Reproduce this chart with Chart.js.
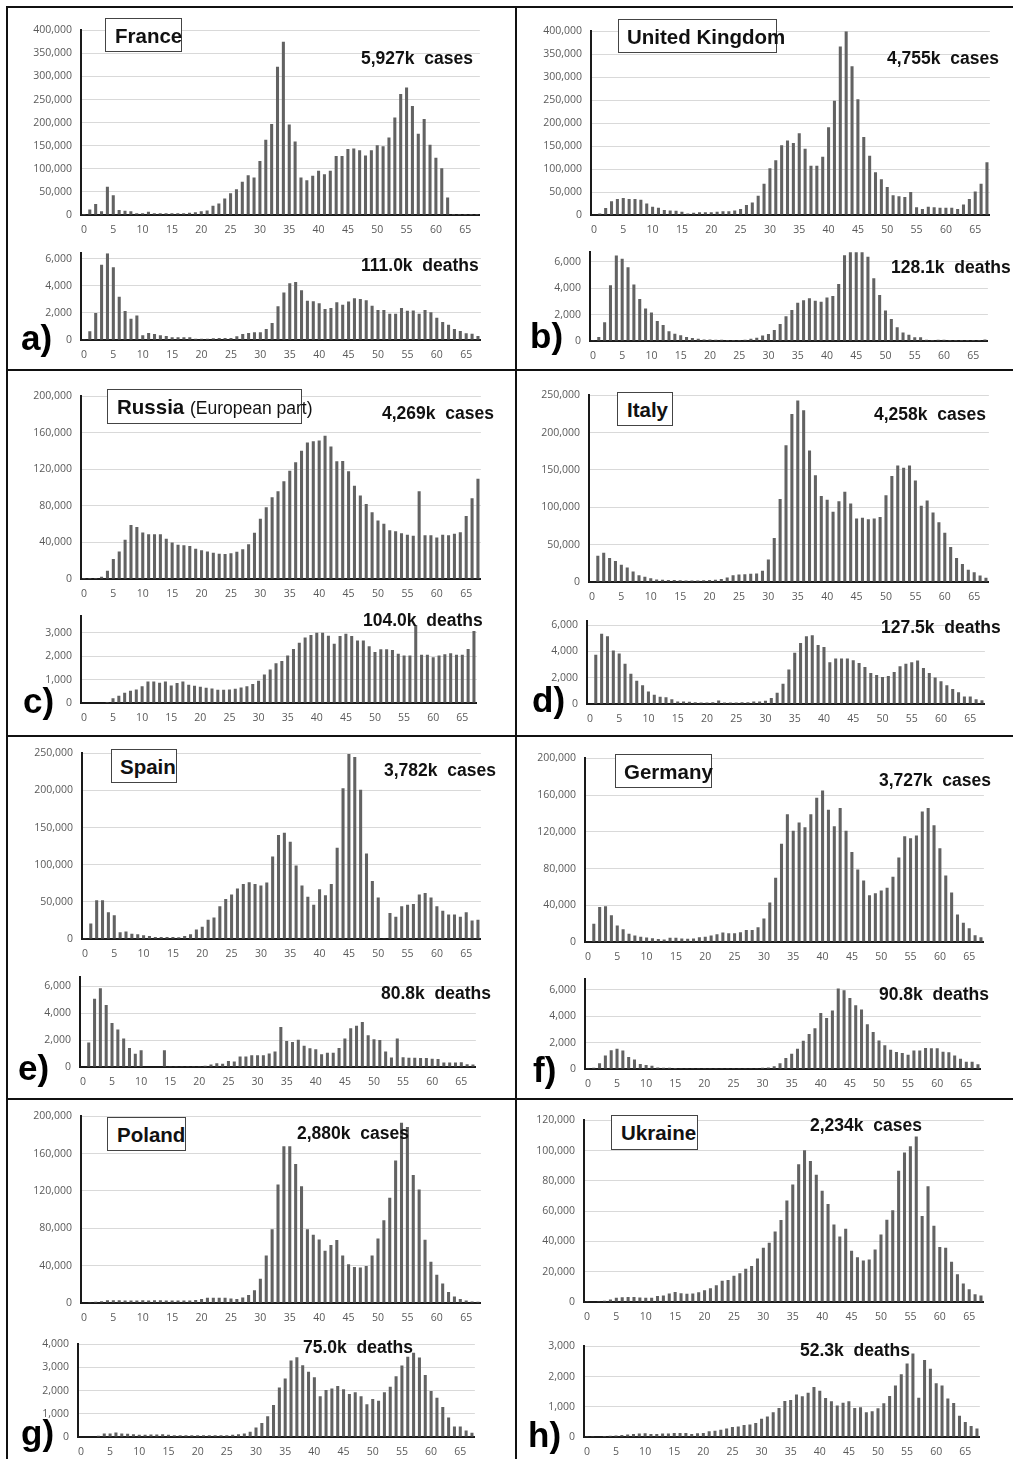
<!DOCTYPE html>
<html>
<head>
<meta charset="utf-8">
<script src="https://cdn.jsdelivr.net/npm/chart.js@4.4.0/dist/chart.umd.min.js"></script>
<style>
body{margin:0;background:#fff;}
#page{position:relative;width:1013px;height:1459px;overflow:hidden;background:#fff;font-family:"Liberation Sans",Arial,sans-serif;}
canvas{position:absolute;}
.ln{position:absolute;background:#111;}
.box{position:absolute;border:1px solid #444;background:#fff;font-weight:bold;font-size:20.5px;line-height:20px;white-space:nowrap;color:#111;box-sizing:border-box;z-index:2;}
.box span{position:absolute;top:7px;}
.note{position:absolute;font-weight:bold;font-size:17.5px;line-height:17.5px;white-space:pre;color:#111;z-index:3;}
.tag{position:absolute;font-weight:bold;font-size:35px;line-height:35px;color:#000;z-index:3;}
</style>
</head>
<body>
<div id="page">
  <div class="ln" style="left:6px;top:6px;width:1007px;height:2px"></div>
  <div class="ln" style="left:6px;top:6px;width:2px;height:1453px"></div>
  <div class="ln" style="left:515px;top:6px;width:2px;height:1453px"></div>
  <div class="ln" style="left:6px;top:369px;width:1007px;height:2px"></div>
  <div class="ln" style="left:6px;top:735px;width:1007px;height:2px"></div>
  <div class="ln" style="left:6px;top:1098px;width:1007px;height:2px"></div>

  <div class="box" style="left:105px;top:18px;width:77px;height:34px"><span style="left:9px">France</span></div>
  <div class="box" style="left:618px;top:19px;width:159px;height:34px"><span style="left:8px">United Kingdom</span></div>
  <div class="box" style="left:107px;top:389px;width:195px;height:35px"><span style="left:9px">Russia <span style="position:static;font-weight:normal;font-size:17.5px">(European part)</span></span></div>
  <div class="box" style="left:617px;top:392px;width:56px;height:34px"><span style="left:9px">Italy</span></div>
  <div class="box" style="left:111px;top:749px;width:66px;height:34px"><span style="left:8px">Spain</span></div>
  <div class="box" style="left:615px;top:754px;width:97px;height:34px"><span style="left:8px">Germany</span></div>
  <div class="box" style="left:107px;top:1117px;width:79px;height:34px"><span style="left:9px">Poland</span></div>
  <div class="box" style="left:611px;top:1115px;width:87px;height:35px"><span style="left:9px">Ukraine</span></div>

  <div class="note" style="left:361px;top:50px">5,927k  cases</div>
  <div class="note" style="left:361px;top:257px">111.0k  deaths</div>
  <div class="note" style="left:887px;top:50px">4,755k  cases</div>
  <div class="note" style="left:891px;top:259px">128.1k  deaths</div>
  <div class="note" style="left:382px;top:405px">4,269k  cases</div>
  <div class="note" style="left:363px;top:612px">104.0k  deaths</div>
  <div class="note" style="left:874px;top:406px">4,258k  cases</div>
  <div class="note" style="left:881px;top:619px">127.5k  deaths</div>
  <div class="note" style="left:384px;top:762px">3,782k  cases</div>
  <div class="note" style="left:381px;top:985px">80.8k  deaths</div>
  <div class="note" style="left:879px;top:772px">3,727k  cases</div>
  <div class="note" style="left:879px;top:986px">90.8k  deaths</div>
  <div class="note" style="left:297px;top:1125px">2,880k  cases</div>
  <div class="note" style="left:303px;top:1339px">75.0k  deaths</div>
  <div class="note" style="left:810px;top:1117px">2,234k  cases</div>
  <div class="note" style="left:800px;top:1342px">52.3k  deaths</div>

  <div class="tag" style="left:21px;top:320px">a)</div>
  <div class="tag" style="left:530px;top:318px">b)</div>
  <div class="tag" style="left:23px;top:683px">c)</div>
  <div class="tag" style="left:532px;top:682px">d)</div>
  <div class="tag" style="left:18px;top:1050px">e)</div>
  <div class="tag" style="left:533px;top:1052px">f)</div>
  <div class="tag" style="left:21px;top:1415px">g)</div>
  <div class="tag" style="left:528px;top:1417px">h)</div>
</div>

<script>
// weeks since start of the epidemic
const weeks = Array.from({length: 68}, (_, i) => i);

// y tick values
const ticks400k = [0, 50000, 100000, 150000, 200000, 250000, 300000, 350000, 400000];
const ticks250k = [0, 50000, 100000, 150000, 200000, 250000];
const ticks200k = [0, 40000, 80000, 120000, 160000, 200000];
const ticks120k = [0, 20000, 40000, 60000, 80000, 100000, 120000];
const ticksD6k = [0, 2000, 4000, 6000];
const ticksD4k = [0, 1000, 2000, 3000, 4000];
const ticksD3k = [0, 1000, 2000, 3000];

const franceCases = [
  2000, 12000, 24000, 8000, 61000, 43000, 11000, 9000, 8000, 4000,
  4000, 7000, 4000, 4000, 4000, 4000, 4000, 4000, 5000, 6000,
  8000, 10000, 20000, 25000, 36000, 47000, 56000, 72000, 86000, 81000,
  117000, 163000, 197000, 321000, 375000, 196000, 159000, 81000, 75000, 85000,
  96000, 88000, 96000, 128000, 128000, 143000, 144000, 140000, 129000, 140000,
  151000, 149000, 168000, 211000, 262000, 276000, 236000, 176000, 208000, 152000,
  124000, 101000, 38000, 2000, 2000, 2000, 2000, 2000];
const franceDeaths = [
  50, 650, 2000, 5550, 6400, 5370, 3200, 2140, 1560, 1810,
  350, 510, 440, 350, 300, 200, 200, 200, 200, 100,
  100, 100, 120, 150, 150, 150, 280, 440, 510, 580,
  580, 810, 1250, 2490, 3510, 4190, 4280, 3670, 2900, 2860,
  2720, 2280, 2370, 2790, 2600, 2840, 3090, 3020, 2930, 2530,
  2210, 2210, 1930, 1930, 2370, 2160, 2180, 1930, 2210, 2050,
  1650, 1330, 1120, 810, 670, 490, 460, 300];

const ukCases = [
  1000, 3000, 15000, 30000, 35000, 37000, 35000, 35000, 33000, 25000,
  18000, 16000, 11000, 10000, 9000, 7000, 3000, 5000, 6000, 6000,
  6000, 7000, 8000, 8000, 10000, 13000, 22000, 27000, 42000, 68000,
  102000, 119000, 152000, 162000, 157000, 178000, 144000, 107000, 107000, 127000,
  191000, 249000, 367000, 400000, 324000, 252000, 170000, 129000, 93000, 78000,
  61000, 43000, 41000, 39000, 50000, 17000, 13000, 18000, 17000, 16000,
  16000, 16000, 13000, 23000, 35000, 51000, 68000, 115000];
const ukDeaths = [
  20, 310, 1410, 4210, 6460, 6220, 5570, 4260, 3180, 2460,
  2150, 1510, 1200, 740, 550, 430, 310, 220, 170, 120,
  120, 100, 100, 70, 70, 70, 100, 170, 240, 410,
  530, 840, 1290, 1870, 2340, 2890, 3080, 3230, 3040, 2970,
  3280, 3400, 4310, 6480, 7200, 7400, 7100, 6360, 4740, 3470,
  2300, 1670, 1030, 650, 480, 290, 290, 100, 70, 100,
  100, 70, 70, 70, 70, 70, 70, 120];

const russiaCases = [
  1000, 1000, 1000, 2500, 9000, 22000, 30000, 43000, 59000, 57000,
  51000, 49000, 49000, 49000, 44000, 40000, 37500, 37000, 36000, 33000,
  31500, 30000, 28700, 27600, 27300, 28300, 29700, 32600, 38000, 50600,
  66000, 78600, 89600, 96000, 107000, 118600, 127800, 140500, 149400, 150800,
  151500, 156800, 145000, 128800, 129200, 117900, 102000, 91300, 82000, 73000,
  64000, 60500, 53500, 52400, 50000, 48500, 47400, 96000, 48000, 48000,
  45300, 48500, 48000, 49500, 51300, 69000, 88500, 109700];
const russiaDeaths = [
  20, 20, 20, 20, 40, 200, 310, 440, 520, 580,
  710, 920, 920, 860, 920, 750, 850, 920, 780, 740,
  690, 650, 620, 570, 570, 580, 610, 660, 710, 810,
  950, 1220, 1430, 1700, 1790, 2030, 2300, 2570, 2790, 2900,
  3000, 3000, 2870, 2530, 2860, 2950, 2860, 2670, 2670, 2420,
  2180, 2290, 2290, 2260, 2100, 2030, 2030, 3330, 2060, 2060,
  1950, 2030, 2080, 2120, 2060, 2060, 2300, 3070];

const italyCases = [
  0, 35000, 39000, 32000, 28000, 23000, 19500, 14000, 9000, 7000,
  5000, 3500, 3000, 2600, 2600, 2500, 2000, 2000, 2000, 2500,
  2600, 3000, 4000, 6000, 9000, 10000, 10500, 11000, 11500, 15000,
  30000, 59000, 111000, 183000, 225000, 243000, 230000, 176000, 143000, 115000,
  110000, 94000, 108000, 121000, 105000, 85000, 86000, 84000, 85000, 87000,
  116000, 142000, 156000, 153000, 156000, 136000, 102000, 109000, 93000, 80000,
  66000, 47000, 32000, 24000, 16500, 13000, 8700, 5600];
const italyDeaths = [
  0, 3750, 5360, 5170, 4080, 3840, 3060, 2300, 1780, 1420,
  950, 710, 550, 520, 360, 190, 190, 170, 140, 120,
  120, 140, 260, 120, 120, 120, 140, 140, 190, 190,
  240, 450, 850, 1540, 2630, 3910, 4650, 5170, 5240, 4500,
  4340, 3180, 3460, 3460, 3460, 3340, 3130, 2820, 2370, 2200,
  2060, 2130, 2440, 2870, 3060, 3180, 3320, 2750, 2370, 2010,
  1730, 1420, 1140, 900, 570, 570, 360, 280];

const spainCases = [
  1000, 21000, 52000, 52000, 36000, 32000, 9000, 10000, 7000, 6500,
  5000, 4000, 2600, 2600, 2600, 2600, 2200, 4000, 6500, 12700,
  16600, 26000, 29000, 44000, 54000, 60000, 68000, 74000, 76500, 74000,
  72000, 76000, 111000, 140000, 143000, 131000, 99000, 72000, 57000, 46000,
  67000, 59000, 74000, 123000, 203000, 249000, 245000, 201000, 115000, 78000,
  56000, 500, 35000, 30000, 44000, 46000, 47000, 60000, 62000, 56000,
  44000, 38000, 33000, 33000, 30000, 36000, 25000, 26000];
const spainDeaths = [
  0, 1810, 5060, 5840, 4590, 3270, 2780, 2120, 1410, 990,
  1250, 30, 30, 30, 1250, 60, 60, 60, 60, 60,
  60, 100, 190, 280, 240, 450, 400, 780, 780, 870,
  870, 870, 1010, 1150, 2960, 1930, 1860, 2020, 1580, 1390,
  1320, 940, 1060, 1060, 1410, 2120, 2870, 3060, 3340, 2350,
  2050, 2000, 1150, 710, 2120, 730, 680, 680, 660, 660,
  610, 590, 330, 330, 330, 350, 210, 190];

const germanyCases = [
  500, 20000, 38000, 39000, 29000, 18000, 14000, 9000, 7000, 5700,
  5000, 4000, 3200, 2800, 4600, 4600, 3900, 3500, 3900, 5300,
  5700, 7000, 8500, 10300, 9600, 9600, 10600, 13000, 13000, 16000,
  25500, 43000, 70000, 107000, 139000, 121000, 130000, 125000, 139000, 157000,
  165000, 144000, 126000, 146000, 121000, 98000, 79000, 67000, 51000, 53000,
  56000, 59000, 71000, 92000, 115000, 113000, 116000, 142000, 146000, 127000,
  102000, 72500, 54000, 30000, 21000, 15000, 7400, 5300];
const germanyDeaths = [
  20, 100, 430, 1020, 1420, 1540, 1400, 900, 710, 380,
  310, 240, 120, 100, 100, 70, 60, 60, 60, 60,
  60, 60, 60, 60, 60, 60, 60, 60, 60, 60,
  100, 120, 210, 430, 830, 1160, 1540, 2130, 2650, 3080,
  4240, 3860, 4430, 6090, 5950, 5360, 4810, 4500, 3390, 2800,
  2160, 1800, 1450, 1280, 1210, 1070, 1400, 1400, 1590, 1560,
  1560, 1300, 1260, 1020, 780, 550, 550, 360];

const polandCases = [
  500, 700, 1400, 2000, 3000, 3000, 3000, 2800, 2800, 2800,
  3000, 2800, 3000, 3000, 2800, 2800, 2600, 2600, 2800, 3200,
  4200, 5600, 5600, 5600, 5600, 4900, 4200, 5900, 8700, 13600,
  26000, 51000, 79000, 127000, 168000, 168000, 149000, 125000, 79000, 73000,
  68000, 56000, 62000, 67500, 51000, 41400, 38600, 37900, 39700, 50800,
  69200, 88700, 112700, 152700, 193000, 188500, 137000, 121700, 67800, 44200,
  30300, 20900, 11800, 7000, 4200, 2800, 1700, 1400];
const polandDeaths = [
  20, 20, 20, 50, 150, 150, 190, 150, 140, 120,
  100, 100, 110, 110, 120, 100, 80, 80, 80, 80,
  80, 80, 80, 80, 80, 80, 100, 120, 150, 230,
  410, 600, 890, 1380, 2140, 2520, 3300, 3440, 3100, 2820,
  2580, 1760, 2030, 2090, 2200, 2060, 1860, 1930, 1760, 1410,
  1640, 1560, 1930, 2170, 2620, 3090, 3460, 3630, 3430, 2680,
  1990, 1690, 1290, 840, 450, 450, 280, 180];

const ukraineCases = [
  200, 400, 500, 900, 1700, 2800, 3200, 3300, 3300, 3000,
  2800, 2800, 4000, 4300, 5600, 6600, 5800, 5400, 5600, 6400,
  7700, 9000, 11000, 14100, 14600, 17400, 19000, 22000, 23800, 28700,
  35800, 39200, 46500, 54200, 67000, 77600, 91000, 100300, 93200, 84000,
  73500, 64700, 51200, 43300, 48400, 33900, 29600, 27400, 28000, 34700,
  44600, 54400, 60600, 86600, 98800, 102800, 109300, 56800, 76500, 50400,
  36400, 35800, 26600, 18400, 12200, 8400, 5100, 4300];
const ukraineDeaths = [
  10, 10, 20, 30, 40, 50, 70, 80, 100, 115,
  125, 100, 100, 115, 115, 135, 135, 135, 100, 125,
  135, 190, 210, 240, 280, 330, 345, 395, 415, 460,
  600, 675, 820, 960, 1190, 1220, 1405, 1345, 1460, 1655,
  1530, 1290, 1180, 1040, 1135, 1180, 960, 980, 820, 855,
  950, 1115, 1355, 1700, 2075, 2430, 2760, 1300, 2550, 2260,
  1780, 1700, 1270, 1125, 700, 500, 365, 280];

// plot frames on the page: left/right of plot area, pixel of axis max, pixel of zero
const charts = [
  {v: franceCases,   t: ticks400k, max: 400000, left: 81,  right: 480, top: 25,   bottom: 215},
  {v: franceDeaths,  t: ticksD6k,  max: 6400,   left: 81,  right: 481, top: 248,  bottom: 340},
  {v: ukCases,       t: ticks400k, max: 400000, left: 591, right: 990, top: 26,   bottom: 215},
  {v: ukDeaths,      t: ticksD6k,  max: 6700,   left: 590, right: 988, top: 247,  bottom: 341},
  {v: russiaCases,   t: ticks200k, max: 200000, left: 81,  right: 481, top: 391,  bottom: 579},
  {v: russiaDeaths,  t: ticksD3k,  max: 3700,   left: 81,  right: 477, top: 611,  bottom: 703},
  {v: italyCases,    t: ticks250k, max: 250000, left: 589, right: 989, top: 390,  bottom: 582},
  {v: italyDeaths,   t: ticksD6k,  max: 6300,   left: 587, right: 985, top: 616,  bottom: 704},
  {v: spainCases,    t: ticks250k, max: 250000, left: 82,  right: 481, top: 748,  bottom: 939},
  {v: spainDeaths,   t: ticksD6k,  max: 6650,   left: 80,  right: 476, top: 972,  bottom: 1067},
  {v: germanyCases,  t: ticks200k, max: 200000, left: 585, right: 984, top: 753,  bottom: 942},
  {v: germanyDeaths, t: ticksD6k,  max: 6780,   left: 585, right: 981, top: 974,  bottom: 1069},
  {v: polandCases,   t: ticks200k, max: 200000, left: 81,  right: 481, top: 1111, bottom: 1303},
  {v: polandDeaths,  t: ticksD4k,  max: 4000,   left: 78,  right: 475, top: 1339, bottom: 1437},
  {v: ukraineCases,  t: ticks120k, max: 120000, left: 584, right: 984, top: 1115, bottom: 1302},
  {v: ukraineDeaths, t: ticksD3k,  max: 3000,   left: 584, right: 980, top: 1341, bottom: 1437}
];

const PT = 10, PR = 6, AXW = 70, XH = 24;
const tickFont = {family: "'Open Sans', sans-serif", size: 10.5};
const page = document.getElementById('page');

charts.forEach(c => {
  const cv = document.createElement('canvas');
  const w = c.right - c.left + AXW + PR;
  const h = c.bottom - c.top + PT + XH;
  cv.width = w;
  cv.height = h;
  cv.style.left = (c.left - AXW) + 'px';
  cv.style.top = (c.top - PT) + 'px';
  page.appendChild(cv);

  new Chart(cv.getContext('2d'), {
    type: 'bar',
    data: {
      labels: weeks,
      datasets: [{
        data: c.v,
        backgroundColor: '#626262',
        borderWidth: 0,
        barPercentage: 0.52,
        categoryPercentage: 1.0
      }]
    },
    options: {
      responsive: false,
      animation: false,
      devicePixelRatio: 1,
      layout: {padding: {top: PT, right: PR, left: 0, bottom: 0}},
      plugins: {legend: {display: false}, tooltip: {enabled: false}},
      scales: {
        x: {
          grid: {display: false, drawTicks: false},
          border: {display: true, color: '#1a1a1a', width: 2},
          ticks: {
            autoSkip: false, maxRotation: 0, minRotation: 0, padding: 9,
            color: '#5a5a5a', font: tickFont,
            callback: (v, i) => (i % 5 === 0 ? String(weeks[i]) : '')
          },
          afterFit: s => { s.height = XH; }
        },
        y: {
          min: 0,
          max: c.max,
          bounds: 'data',
          afterBuildTicks: s => { s.ticks = c.t.map(v => ({value: v})); },
          grid: {color: '#d9d9d9', lineWidth: 1, drawTicks: false},
          border: {display: true, color: '#1a1a1a', width: 2},
          ticks: {
            padding: 9, color: '#5a5a5a', font: tickFont,
            callback: v => Number(v).toLocaleString('en-US')
          },
          afterFit: s => { s.width = AXW; }
        }
      }
    }
  });
});
</script>
</body>
</html>
